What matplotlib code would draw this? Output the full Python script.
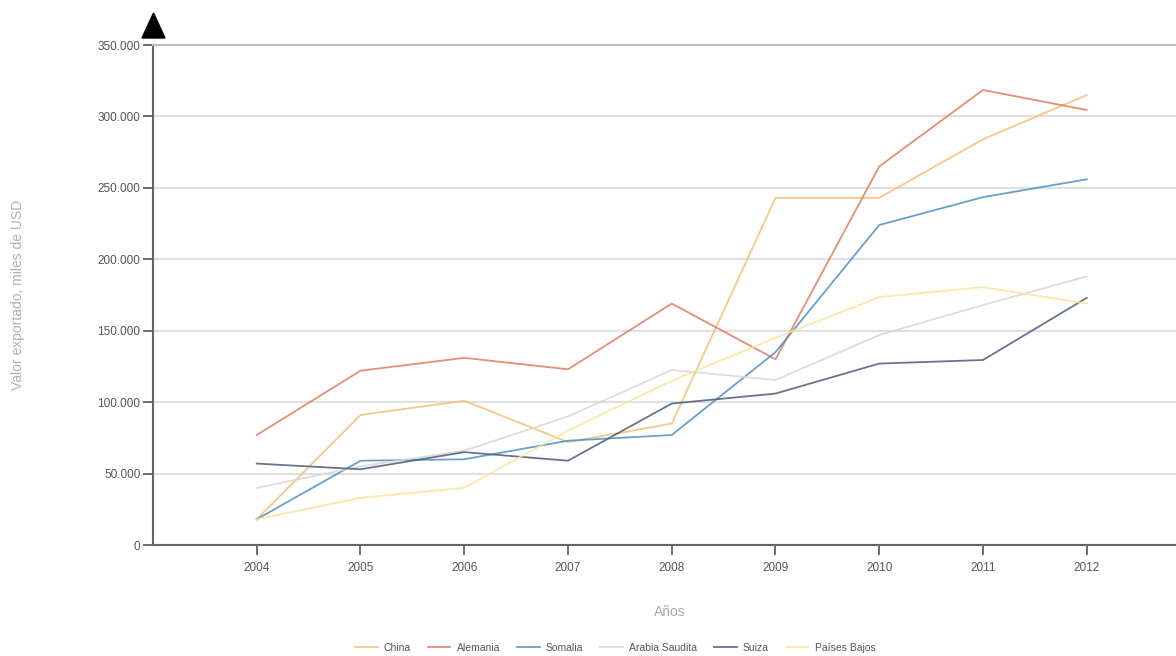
import matplotlib.pyplot as plt
from matplotlib.patches import Polygon
from matplotlib.ticker import FuncFormatter

plt.rcParams["font.family"] = ["Liberation Sans", "DejaVu Sans"]

years = [2004, 2005, 2006, 2007, 2008, 2009, 2010, 2011, 2012]

china = [18000, 91000, 101000, 72000, 85000, 243000, 243000, 284000, 315000]
alemania = [77000, 122000, 131000, 123000, 169000, 130000, 265000, 318500, 304500]
somalia = [18000, 59000, 60000, 73000, 77000, 135000, 224000, 243500, 256000]
arabia_saudita = [40000, 55000, 66000, 90000, 122500, 115500, 147000, 168000, 188000]
suiza = [57000, 53000, 65000, 59000, 99000, 106000, 127000, 129500, 173000]
paises_bajos = [18000, 33000, 40000, 80000, 115000, 145000, 173500, 180500, 169000]

series = [
    ("China", china, "#f5bd74"),
    ("Alemania", alemania, "#e07a5c"),
    ("Somalia", somalia, "#4d8ec4"),
    ("Arabia Saudita", arabia_saudita, "#d6d6d6"),
    ("Suiza", suiza, "#4b5d79"),
    ("Países Bajos", paises_bajos, "#fbe49c"),
]

W, H = 1176, 656
fig = plt.figure(figsize=(W / 100, H / 100), dpi=100)
ax = fig.add_axes([153 / W, 1 - 545 / H, 1 - 153 / W, 500 / H])

for name, vals, color in series:
    ax.plot(years, vals, color=color, lw=1.3, alpha=0.85, label=name)

ax.set_ylim(0, 350000)
ax.set_xlim(2003, 2003 + (W - 153) / 103.75)
ax.set_xticks(years)
ax.set_yticks(range(0, 350001, 50000))
ax.yaxis.set_major_formatter(
    FuncFormatter(lambda v, p: "0" if v == 0 else f"{int(v):,}".replace(",", "."))
)
ax.grid(axis="y", color="#e0e0e0", lw=1.5)
ax.set_axisbelow(True)

ax.spines["right"].set_visible(False)
ax.spines["top"].set_color("#b8bcc6")
ax.spines["top"].set_linewidth(1.5)
for side in ["left", "bottom"]:
    ax.spines[side].set_color("#666666")
    ax.spines[side].set_linewidth(1.5)

ax.tick_params(axis="both", colors="#555555", labelsize=8.5, length=7, width=1.2)
ax.tick_params(axis="x", pad=5)
ax.tick_params(axis="y", pad=2)

# arrow head on top of the value axis (figure pixel coordinates)
tri = [(142 / W, 1 - 38 / H), (165 / W, 1 - 38 / H), (153.5 / W, 1 - 13 / H)]
fig.add_artist(Polygon(tri, closed=True, color="black", transform=fig.transFigure))

ax.set_ylabel("Valor exportado, miles de USD", color="#b0b0b0", fontsize=10)
ax.yaxis.set_label_coords(-128 / (W - 153), 0.5)
ax.set_xlabel("Años", color="#a8a8a8", fontsize=10)
ax.xaxis.set_label_coords((670 - 153) / (W - 153), -60 / 500)

fig.legend(loc="center", bbox_to_anchor=(615 / W, 1 - 648 / H), ncol=6, frameon=False,
           fontsize=7.5, handlelength=2.2, columnspacing=1.6, handletextpad=0.6,
           labelcolor="#555555")

fig.savefig("out.png", dpi=100)
